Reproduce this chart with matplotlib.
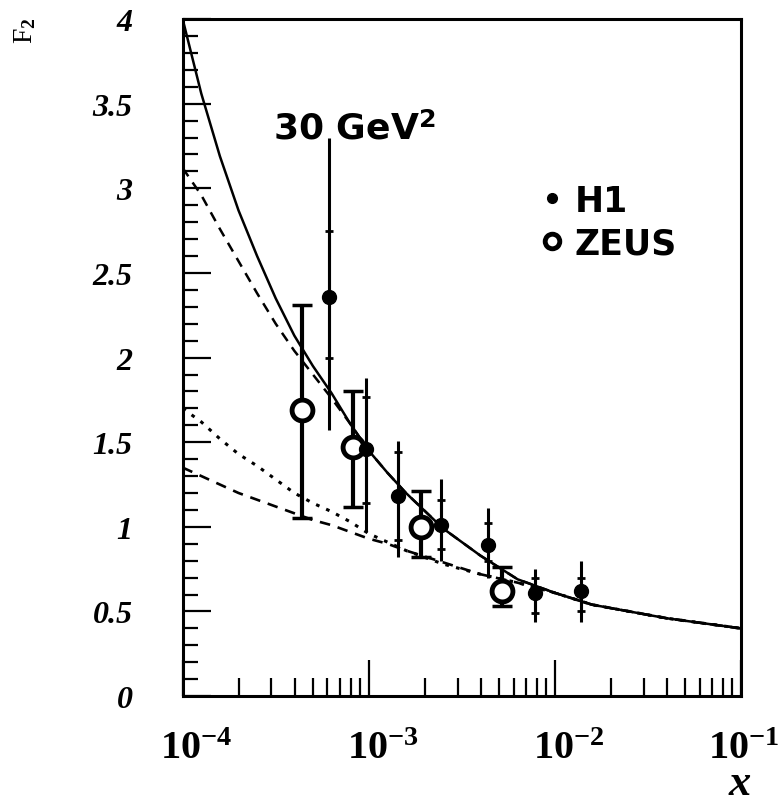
import numpy as np
import matplotlib
matplotlib.use("Agg")
from matplotlib import pyplot as plt
from matplotlib.ticker import FixedLocator, LogLocator, NullFormatter
from matplotlib.transforms import ScaledTranslation

# ZEUS points (open circles)
zeus_x = [4.4e-4, 8.2e-4, 1.9e-3, 5.2e-3]
zeus_y = [1.69, 1.47, 1.00, 0.62]
zeus_lo = [1.05, 1.12, 0.82, 0.53]
zeus_hi = [2.31, 1.80, 1.21, 0.76]

# H1 points (filled), total and stat error ends
h1_x = [6.1e-4, 9.7e-4, 1.43e-3, 2.45e-3, 4.4e-3, 7.8e-3, 1.38e-2]
h1_y = [2.36, 1.46, 1.18, 1.01, 0.89, 0.61, 0.62]
h1_lo = [1.57, 0.97, 0.82, 0.80, 0.70, 0.44, 0.44]
h1_hi = [3.30, 1.88, 1.51, 1.28, 1.11, 0.75, 0.80]
h1_stat_lo = [2.00, 1.14, 0.92, 0.87, 0.80, 0.49, 0.50]
h1_stat_hi = [2.75, 1.77, 1.44, 1.16, 1.02, 0.70, 0.70]

# model curves, read at log10(x)
curve_logx = [-4.0, -3.9, -3.8, -3.7, -3.6, -3.5, -3.4, -3.3, -3.2, -3.1, -3.0,
              -2.9, -2.8, -2.6, -2.4, -2.2, -2.0, -1.8, -1.6, -1.4, -1.2, -1.0]
solid_f2 = [4.0, 3.56, 3.19, 2.87, 2.60, 2.35, 2.13, 1.95, 1.79, 1.61, 1.45,
            1.32, 1.20, 0.99, 0.83, 0.69, 0.61, 0.54, 0.50, 0.46, 0.43, 0.40]
dashed_f2 = [3.12, 2.96, 2.76, 2.57, 2.38, 2.20, 2.04, 1.90, 1.76, 1.61, 1.45,
             1.32, 1.20, 0.99, 0.83, 0.69, 0.61, 0.54, 0.50, 0.46, 0.43, 0.40]
dotted_f2 = [1.70, 1.62, 1.52, 1.43, 1.36, 1.28, 1.20, 1.14, 1.09, 1.03, 0.96,
             0.91, 0.86, 0.78, 0.72, 0.67, 0.61, 0.54, 0.50, 0.46, 0.43, 0.40]
lowdash_f2 = [1.35, 1.30, 1.25, 1.20, 1.16, 1.12, 1.08, 1.04, 1.01, 0.97, 0.93,
              0.90, 0.86, 0.79, 0.72, 0.67, 0.61, 0.54, 0.50, 0.46, 0.43, 0.40]

yticks = [0, 0.5, 1, 1.5, 2, 2.5, 3, 3.5, 4]
ytick_labels = ["0", "0.5", "1", "1.5", "2", "2.5", "3", "3.5", "4"]
xticks = [1e-4, 1e-3, 1e-2, 1e-1]
xtick_labels = [r"$\mathit{10^{-4}}$", r"$\mathit{10^{-3}}$", r"$\mathit{10^{-2}}$", r"$\mathit{10^{-1}}$"]

plt.rcParams['mathtext.fontset'] = 'custom'
plt.rcParams['mathtext.it'] = 'Liberation Serif:italic:bold'
plt.rcParams['mathtext.rm'] = 'Liberation Serif:bold'

fig = plt.figure(figsize=(7.84, 8.04), dpi=100)
ax = fig.add_axes([0.233, 0.133, 0.712, 0.842])

cx = 10.0 ** np.array(curve_logx)
ax.plot(cx, solid_f2, 'k-', lw=1.8)
ax.plot(cx, dashed_f2, 'k', ls=(0, (4, 3)), lw=1.8)
ax.plot(cx, dotted_f2, 'k', ls=(0, (1.2, 2.4)), lw=2.2)
ax.plot(cx, lowdash_f2, 'k', ls=(0, (4, 3)), lw=1.9)

# ZEUS
zy = np.array(zeus_y)
ax.errorbar(zeus_x, zy, yerr=[zy - np.array(zeus_lo), np.array(zeus_hi) - zy],
            fmt='none', ecolor='k', elinewidth=3, capsize=7, capthick=2.5, zorder=3)
zeus_line, = ax.plot(zeus_x, zeus_y, 'o', ms=15, mfc='white', mec='k', mew=3.5, zorder=4)

# H1
hy = np.array(h1_y)
ax.errorbar(h1_x, hy, yerr=[hy - np.array(h1_lo), np.array(h1_hi) - hy],
            fmt='none', ecolor='k', elinewidth=2.2, zorder=3)
ax.errorbar(h1_x, hy, yerr=[hy - np.array(h1_stat_lo), np.array(h1_stat_hi) - hy],
            fmt='none', ecolor='k', elinewidth=2.2, capsize=3, capthick=2, zorder=3)
h1_line, = ax.plot(h1_x, h1_y, 'o', ms=10, mfc='k', mec='k', zorder=4)

ax.set_xscale('log')
ax.set_xlim(1e-4, 1e-1)
ax.set_ylim(0, 4)

ax.yaxis.set_major_locator(FixedLocator(yticks))
ax.set_yticklabels(ytick_labels, fontfamily='Liberation Serif', fontstyle='italic',
                   fontweight='bold', fontsize=23)
ax.yaxis.set_minor_locator(FixedLocator(np.arange(0, 4.01, 0.1)))
ax.xaxis.set_major_locator(FixedLocator(xticks))
ax.set_xticklabels(xtick_labels, fontsize=29)
ax.xaxis.set_minor_locator(LogLocator(base=10, subs=np.arange(2, 10)))
ax.xaxis.set_minor_formatter(NullFormatter())

ax.tick_params(axis='both', which='both', direction='in', top=False, right=False, width=1.6)
ax.tick_params(axis='y', which='major', length=20, pad=36)
ax.tick_params(axis='y', which='minor', length=11)
ax.tick_params(axis='x', which='major', length=26, pad=22)
ax.tick_params(axis='x', which='minor', length=13)
for s in ax.spines.values():
    s.set_linewidth(2.2)

# the "10" sits about centred on its tick, the exponent hangs to the right
for lab, dx in zip(ax.get_xticklabels(), [10, 10, 10, 2]):
    lab.set_transform(lab.get_transform() + ScaledTranslation(dx / 72, 0, fig.dpi_scale_trans))

ax.text(0.161, 0.823, r"30 GeV$^\mathbf{2}$", transform=ax.transAxes, fontsize=26,
        fontweight='bold', fontfamily='DejaVu Sans', va='baseline')

ax.legend(handles=[h1_line, zeus_line], labels=['H1', 'ZEUS'], loc='upper left',
          bbox_to_anchor=(0.646, 0.757), frameon=False, markerscale=0.7,
          prop={'family': 'DejaVu Sans', 'weight': 'bold', 'size': 25},
          handlelength=0.5, handletextpad=0.4, labelspacing=0.25,
          borderpad=0, borderaxespad=0)

fig.text(0.032, 0.978, r"F$_2$", rotation=90, fontsize=20, fontfamily='Liberation Serif',
         ha='center', va='top')
fig.text(0.944, 0.0, "x", fontsize=32, fontfamily='Liberation Serif', fontstyle='italic',
         fontweight='bold', ha='center', va='bottom')

fig.savefig("out.png", dpi=100)
